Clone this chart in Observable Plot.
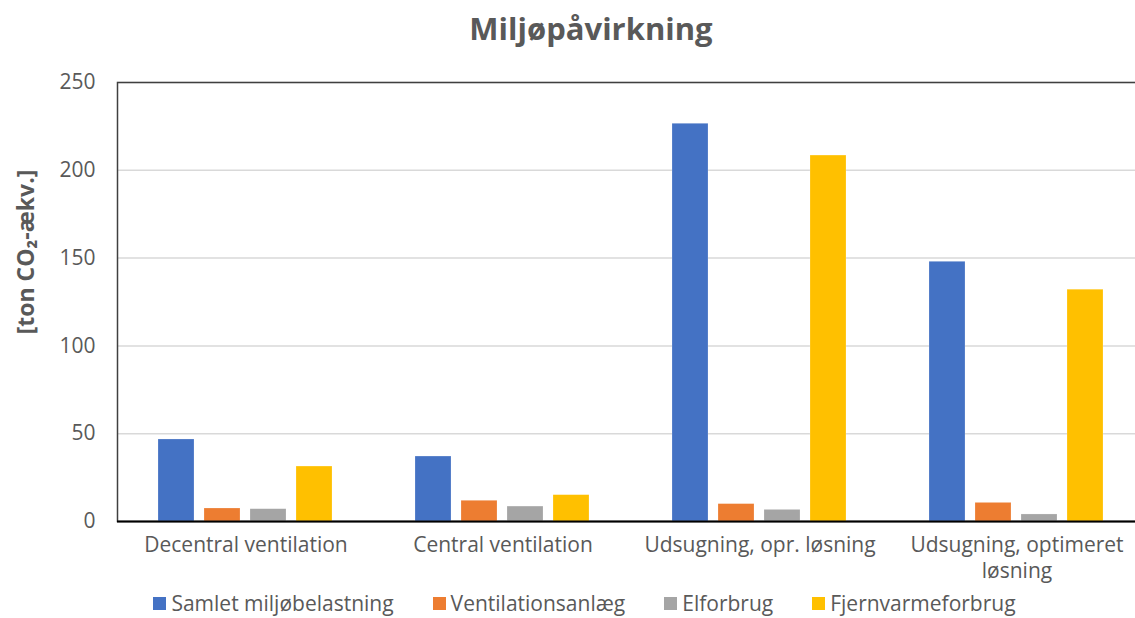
<!DOCTYPE html>
<html>
<head>
<meta charset="utf-8">
<script src="https://cdn.jsdelivr.net/npm/d3@7"></script>
<script src="https://cdn.jsdelivr.net/npm/@observablehq/plot@0.6"></script>
<style>
  html, body { margin: 0; padding: 0; overflow: hidden; background: #fff; }
  #wrap { position: relative; width: 1135px; height: 618px; overflow: hidden; font-family: "Open Sans", sans-serif; color: #595959; }
  #title { height: 60px; line-height: 56px; padding-left: 47px; text-align: center; font-size: 31px; font-weight: 700; color: #595959; }
  #ylabel { position: absolute; left: 25px; top: 252px; transform: translate(-50%, -50%) rotate(-90deg); font-size: 23px; font-weight: 700; white-space: nowrap; color: #595959; }
  #legend { display: flex; justify-content: center; gap: 39px; padding-left: 34px; height: 26px; line-height: 26px; padding-top: 0px; font-size: 21px; color: #595959; }
  #legend .item { display: flex; align-items: center; gap: 5px; white-space: nowrap; }
  #legend .sw { width: 13px; height: 13px; display: inline-block; }
  #chart svg { display: block; max-width: none !important; height: 530px !important; width: 1145px !important; }
</style>
</head>
<body>
<div id="wrap">
  <div id="title">Miljøpåvirkning</div>
  <div id="chart"></div>
  <div id="legend"></div>
  <div id="ylabel">[ton CO₂-ækv.]</div>
</div>
<script>
const categories = ["Decentral ventilation", "Central ventilation", "Udsugning, opr. løsning", "Udsugning, optimeret løsning"];
const categoryLabels = ["Decentral ventilation", "Central ventilation", "Udsugning, opr. løsning", "Udsugning, optimeret\nløsning"];
const series = ["Samlet miljøbelastning", "Ventilationsanlæg", "Elforbrug", "Fjernvarmeforbrug"];
const colors = ["#4472C4", "#ED7D31", "#A5A5A5", "#FFC000"];
const samlet = [46.7, 37.0, 226.5, 147.9];
const ventilation = [7.4, 11.8, 9.9, 10.6];
const elforbrug = [7.0, 8.5, 6.6, 4.0];
const fjernvarme = [31.3, 15.0, 208.4, 132.0];
const yTicks = [0, 50, 100, 150, 200, 250];

const seriesValues = [samlet, ventilation, elforbrug, fjernvarme];
const data = [];
categories.forEach((c, i) => {
  series.forEach((s, j) => data.push({cat: c, series: s, value: seriesValues[j][i]}));
});

const chart = Plot.plot({
  width: 1145,
  height: 530,
  marginTop: 22,
  marginBottom: 69,
  marginLeft: 117,
  marginRight: 0,
  style: {fontFamily: "'Open Sans', sans-serif", fontSize: "21px", color: "#595959", background: "transparent"},
  fx: {domain: categories, padding: 0, label: null},
  x: {domain: series, paddingInner: 0.21, paddingOuter: 0.84, axis: null},
  y: {domain: [0, 250], label: null},
  color: {domain: series, range: colors},
  marks: [
    Plot.ruleY(yTicks.slice(1), {stroke: "#d9d9d9", strokeWidth: 1.5}),
    Plot.frame({facet: "super", stroke: "#404040", strokeWidth: 1.5}),
    Plot.barY(data, {fx: "cat", x: "series", y: "value", fill: "series", stroke: "#fff", strokeOpacity: 0.4, strokeWidth: 0.5}),
    Plot.ruleY([0], {stroke: "#000", strokeWidth: 2}),
    Plot.axisY({ticks: yTicks, tickSize: 0, tickPadding: 22, fontSize: 21, fill: "#595959", label: null}),
    Plot.axisFx({anchor: "bottom", tickSize: 0, tickPadding: 12, fontSize: 21, fill: "#595959", lineHeight: 1.25, label: null,
      tickFormat: d => categoryLabels[categories.indexOf(d)]})
  ]
});
document.getElementById("chart").appendChild(chart);

const legend = document.getElementById("legend");
series.forEach((s, j) => {
  const item = document.createElement("div");
  item.className = "item";
  const sw = document.createElement("span");
  sw.className = "sw";
  sw.style.background = colors[j];
  const t = document.createElement("span");
  t.textContent = s;
  item.appendChild(sw);
  item.appendChild(t);
  legend.appendChild(item);
});
</script>
</body>
</html>
